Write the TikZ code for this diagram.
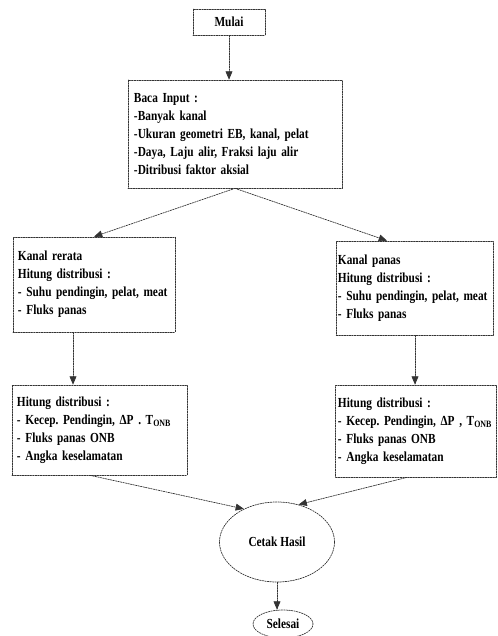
\documentclass[tikz,border=0pt]{standalone}
\usepackage{fontspec}
\setmainfont{Liberation Serif}[FakeStretch=0.82]
\usepackage{tikz}
\usetikzlibrary{arrows}
\usetikzlibrary{shapes.geometric}
\frenchspacing

\begin{document}
\begin{tikzpicture}[line cap=round,line join=round,>=triangle 45,x=0.03cm,y=-0.03cm,
    garis/.style={dash pattern=on 1.3pt off 0.9pt,line width=0.6pt,color=black!80},
    kotak/.style={garis,draw,rectangle,inner xsep=0.15cm,inner ysep=0pt,align=left,
      text=black,font=\fontsize{11.8}{15.3}\selectfont\bfseries},
    bulat/.style={garis,draw,ellipse,inner sep=0pt,text=black,font=\fontsize{11.8}{13}\selectfont\bfseries}]
      \useasboundingbox (0,0) rectangle (497,636);
      \node[kotak,minimum width=2.16cm,minimum height=0.78cm,align=center] (mulai) at (229,22) {Mulai};
      \node[kotak,text width=6.06cm,minimum height=3.24cm,inner xsep=0.18cm] (baca) at (235,134) {Baca Input :\\
        -Banyak kanal\\
        -Ukuran geometri EB, kanal, pelat\\
        -Daya, Laju alir, Fraksi laju alir\\
        -Ditribusi faktor aksial};
      \node[kotak,text width=4.56cm,minimum height=2.85cm] (rerata) at (94,284.5) {Kanal rerata\\
        Hitung distribusi :\\
        - Suhu pendingin, pelat, meat\\
        - Fluks panas};
      \node[kotak,text width=4.62cm,minimum height=2.82cm,inner xsep=0.05cm] (panas) at (415,288) {Kanal panas\\
        Hitung distribusi :\\
        - Suhu pendingin, pelat, meat\\
        - Fluks panas};
      \node[kotak,text width=4.95cm,minimum height=2.7cm] (hitL) at (99.5,430) {Hitung distribusi :\\
        - Kecep. Pendingin, ΔP . T\textsubscript{ONB}\\
        - Fluks panas ONB\\
        - Angka keselamatan};
      \node[kotak,text width=4.68cm,minimum height=2.76cm,inner xsep=0.07cm] (hitR) at (416,431) {Hitung distribusi :\\
        - Kecep. Pendingin, ΔP , T\textsubscript{ONB}\\
        - Fluks panas ONB\\
        - Angka keselamatan};
      \node[bulat,minimum width=3.45cm,minimum height=2.4cm] (cetak) at (277,542) {Cetak Hasil};
      \node[bulat,minimum width=1.8cm,minimum height=0.84cm] (selesai) at (283,624) {Selesai};
      \draw[garis,->] (mulai.south) -- (mulai.south |- baca.north);
      \draw[garis,->] (baca.south) -- (rerata.north);
      \draw[garis,->] (baca.south) -- ([xshift=-0.84cm]panas.north);
      \draw[garis,->] ([xshift=-0.63cm]rerata.south) -- ([xshift=-0.63cm]rerata.south |- hitL.north);
      \draw[garis,->] (panas.south) -- (panas.south |- hitR.north);
      \draw[garis,->] ([xshift=-0.28cm]hitL.south) -- (cetak.135);
      \draw[garis,->] ([xshift=-0.27cm]hitR.south) -- (cetak.60);
      \draw[garis,->] (cetak.south) -- (cetak.south |- selesai.north);
    \end{tikzpicture}
\end{document}
